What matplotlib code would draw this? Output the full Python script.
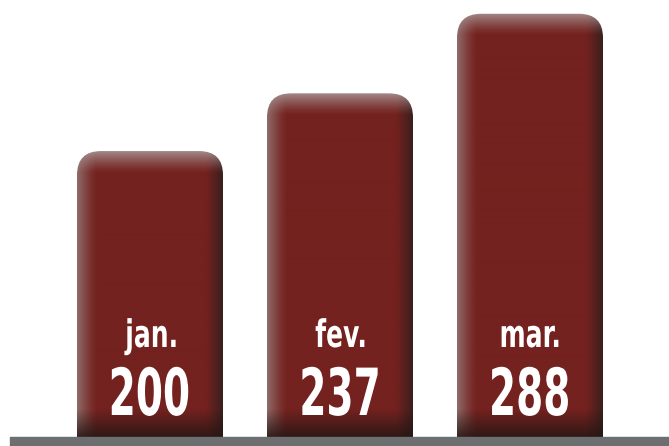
import numpy as np
import matplotlib
matplotlib.use("Agg")
import matplotlib.pyplot as plt
from matplotlib.patches import FancyBboxPatch, PathPatch
from matplotlib.textpath import TextPath
from matplotlib.font_manager import FontProperties
from matplotlib.transforms import Affine2D

months = ["jan.", "fev.", "mar."]
values = [200, 237, 288]

base = np.array([116, 34, 31]) / 255.0
light_l = np.array([150, 128, 126]) / 255.0
light_t = np.array([175, 165, 165]) / 255.0
dark_r = np.array([45, 30, 28]) / 255.0
dark_b = np.array([35, 22, 20]) / 255.0


def shade(w, h):
    nx, ny = int(w), int(h)
    xs = np.arange(nx) + 0.5
    ys = np.arange(ny) + 0.5
    X, Y = np.meshgrid(xs, ys)
    img = np.ones((ny, nx, 3)) * base
    fl = np.clip(1 - X / 20.0, 0, 1)[..., None] ** 1.3 * 0.8
    img = img * (1 - fl) + light_l * fl
    fr = np.clip(1 - (nx - X) / 18.0, 0, 1)[..., None] ** 1.2 * 0.85
    img = img * (1 - fr) + dark_r * fr
    ft = np.clip(1 - Y / 22.0, 0, 1)[..., None] ** 1.3 * 0.8
    img = img * (1 - ft) + light_t * ft
    fb = np.clip(1 - (ny - Y) / 28.0, 0, 1)[..., None] * 0.85
    img = img * (1 - fb) + dark_b * fb
    return img


def cond_text(ax, x, y, s, size_px, sx):
    # condensed bold text: drawn as a path squeezed horizontally
    fp = FontProperties(family="DejaVu Sans", weight="bold")
    tp = TextPath((0, 0), s, size=size_px, prop=fp)
    ext = tp.get_extents()
    px, py = ax.transData.transform((x, y))
    tr = Affine2D().scale(sx, 1).translate(px - (ext.x0 + ext.width / 2) * sx, py)
    ax.add_patch(PathPatch(tp, transform=tr, facecolor="white",
                           edgecolor="none", zorder=3))


px_x = 190.0
px_y = 1.56
y0 = 16.7   # value sitting on the grey baseline

fig = plt.figure(figsize=(6.69, 4.46), dpi=100)
ax = fig.add_axes([0, 0, 1, 1])
xlim = (-150 / px_x, 519 / px_x)
ylim = (y0 - 9 / px_y, y0 + 437 / px_y)
ax.set_xlim(*xlim)
ax.set_ylim(*ylim)
ax.axis("off")

width = 146 / px_x
radius = 24 / px_x

for i, (m, v) in enumerate(zip(months, values)):
    x0 = i - width / 2
    patch = FancyBboxPatch((x0, -40), width, v + 40,
                           boxstyle="round,pad=0,rounding_size=%f" % radius,
                           mutation_aspect=px_x / px_y,
                           facecolor="none", edgecolor="none")
    ax.add_patch(patch)
    img = shade(width * px_x, (v - y0) * px_y)
    im = ax.imshow(img, extent=[x0, x0 + width, y0, v], aspect="auto",
                   interpolation="bilinear", zorder=2)
    im.set_clip_path(patch)
    cond_text(ax, i, y0 + 57.7, m, 38, 0.66)
    cond_text(ax, i, y0 + 14.1, str(v), 65, 0.6)

ax.axhspan(ylim[0] - 5, y0, xmin=10 / 669.0, xmax=1, color="#6d6e70", zorder=4)

ax.set_xlim(*xlim)
ax.set_ylim(*ylim)
fig.savefig("out.png", dpi=100)
